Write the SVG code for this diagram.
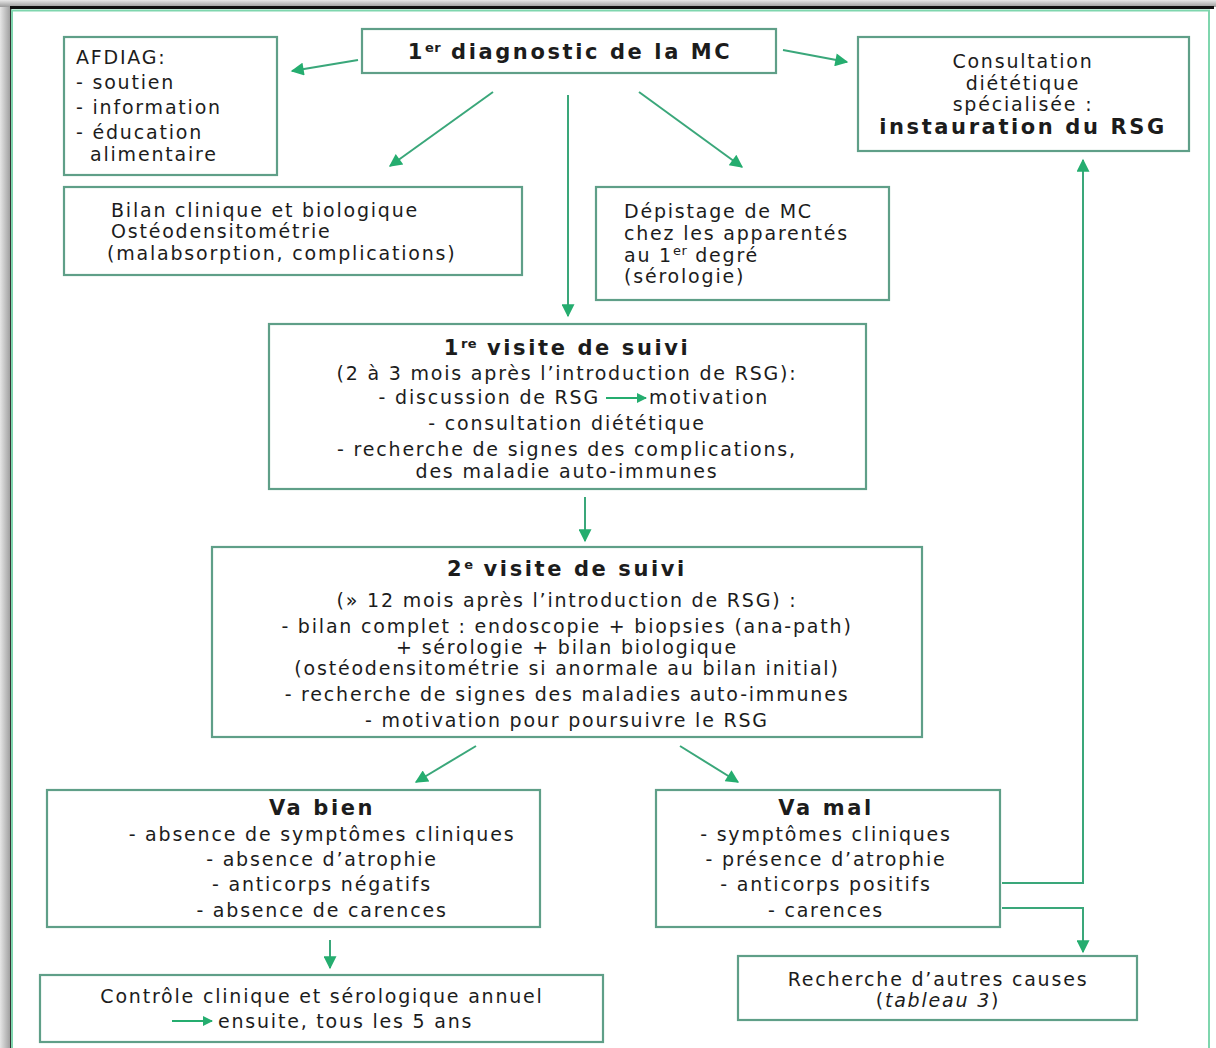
<svg xmlns="http://www.w3.org/2000/svg" width="1216" height="1048" viewBox="0 0 1216 1048">
<defs>
<linearGradient id="gl" x1="0" y1="0" x2="1" y2="0"><stop offset="0" stop-color="#e6e6e6"/><stop offset="1" stop-color="#9a9a9a"/></linearGradient>
<linearGradient id="gt" x1="0" y1="0" x2="0" y2="1"><stop offset="0" stop-color="#e8e8e8"/><stop offset="1" stop-color="#9a9a9a"/></linearGradient>
<marker id="ah" viewBox="0 0 10 10" refX="9" refY="5" markerWidth="15" markerHeight="13" markerUnits="userSpaceOnUse" orient="auto"><path d="M0,0 L10,5 L0,10 z" fill="#25ad6f"/></marker>
<marker id="ahs" viewBox="0 0 10 10" refX="9" refY="5" markerWidth="12" markerHeight="10" markerUnits="userSpaceOnUse" orient="auto"><path d="M0,0 L10,5 L0,10 z" fill="#25ad6f"/></marker>
</defs>
<style>
.box{fill:#ffffff;stroke:#5f9f88;stroke-width:2.2}
.t{font-family:"DejaVu Sans","Liberation Sans",sans-serif;font-size:19px;letter-spacing:1.8px;fill:#1c1c1c}
.c{text-anchor:middle}
.b{font-weight:bold;font-size:21px;letter-spacing:2.6px}
.sup{font-size:13px;letter-spacing:0.5px}
.con{fill:none;stroke:#3aa77a;stroke-width:2;marker-end:url(#ah)}
.inl{fill:none;stroke:#25ad6f;stroke-width:2;marker-end:url(#ahs)}
</style>
<rect x="0" y="0" width="1216" height="1048" fill="#ffffff"/>
<rect x="0" y="0" width="11" height="1048" fill="url(#gl)"/>
<rect x="0" y="0" width="1216" height="7" fill="url(#gt)"/>
<rect x="10" y="6" width="1204" height="3" fill="#111111"/>
<rect x="10" y="9" width="1.5" height="1039" fill="#333333"/>
<rect x="12" y="10.5" width="1197" height="1045" fill="none" stroke="#7fd6ae" stroke-width="2"/>

<g id="connectors">
<path class="con" d="M358,60 L292,71"/>
<path class="con" d="M783,50 L847,62"/>
<path class="con" d="M493,92 L390,166"/>
<path class="con" d="M639,92 L742,167"/>
<path class="con" d="M568,95 L568,316"/>
<path class="con" d="M585,497 L585,541"/>
<path class="con" d="M476,746 L416,782"/>
<path class="con" d="M680,746 L738,782"/>
<path class="con" d="M330,940 L330,968"/>
<path class="con" d="M1002,883 H1083 V160"/>
<path class="con" d="M1002,908 H1083 V952"/>
</g>

<g id="afdiag">
<rect class="box" x="64" y="37" width="213" height="138"/>
<text class="t" x="76" y="64">AFDIAG:</text>
<text class="t" x="76" y="89">- soutien</text>
<text class="t" x="76" y="114">- information</text>
<text class="t" x="76" y="139">- éducation</text>
<text class="t" x="90" y="161">alimentaire</text>
</g>

<g id="diagnostic">
<rect class="box" x="362" y="29" width="414" height="44"/>
<text class="t c b" x="570" y="59">1<tspan class="sup" dy="-7">er</tspan><tspan dy="7"> diagnostic de la MC</tspan></text>
</g>

<g id="consultation">
<rect class="box" x="858" y="37" width="331" height="114"/>
<text class="t c" x="1023" y="68">Consultation</text>
<text class="t c" x="1023" y="90">diététique</text>
<text class="t c" x="1023" y="111">spécialisée :</text>
<text class="t c b" x="1023" y="134">instauration du RSG</text>
</g>

<g id="bilan">
<rect class="box" x="64" y="187" width="458" height="88"/>
<text class="t" x="111" y="217">Bilan clinique et biologique</text>
<text class="t" x="111" y="238">Ostéodensitométrie</text>
<text class="t" x="107" y="260">(malabsorption, complications)</text>
</g>

<g id="depistage">
<rect class="box" x="596" y="187" width="293" height="113"/>
<text class="t" x="624" y="218">Dépistage de MC</text>
<text class="t" x="624" y="240">chez les apparentés</text>
<text class="t" x="624" y="262">au 1<tspan class="sup" dy="-7">er</tspan><tspan dy="7"> degré</tspan></text>
<text class="t" x="624" y="283">(sérologie)</text>
</g>

<g id="visite1">
<rect class="box" x="269" y="324" width="597" height="165"/>
<text class="t c b" x="567" y="355">1<tspan class="sup" dy="-7">re</tspan><tspan dy="7"> visite de  suivi</tspan></text>
<text class="t c" x="567" y="380">(2 à 3 mois après l’introduction de RSG):</text>
<text class="t" x="600" y="404" text-anchor="end">- discussion de RSG</text>
<path class="inl" d="M606,398 L646,398"/>
<text class="t" x="649" y="404">motivation</text>
<text class="t c" x="567" y="430">- consultation diététique</text>
<text class="t c" x="567" y="456">- recherche de signes des complications,</text>
<text class="t c" x="567" y="478">des maladie auto-immunes</text>
</g>

<g id="visite2">
<rect class="box" x="212" y="547" width="710" height="190"/>
<text class="t c b" x="567" y="576">2<tspan class="sup" dy="-7">e</tspan><tspan dy="7"> visite de suivi</tspan></text>
<text class="t c" x="567" y="607">(» 12 mois après l’introduction de RSG) :</text>
<text class="t c" x="567" y="633">- bilan complet : endoscopie + biopsies (ana-path)</text>
<text class="t c" x="567" y="654">+ sérologie + bilan biologique</text>
<text class="t c" x="567" y="675">(ostéodensitométrie si anormale au bilan initial)</text>
<text class="t c" x="567" y="701">- recherche de signes des maladies auto-immunes</text>
<text class="t c" x="567" y="727">- motivation pour poursuivre le RSG</text>
</g>

<g id="vabien">
<rect class="box" x="47" y="790" width="493" height="137"/>
<text class="t c b" x="322" y="815">Va bien</text>
<text class="t c" x="322" y="841">- absence de symptômes cliniques</text>
<text class="t c" x="322" y="866">- absence d’atrophie</text>
<text class="t c" x="322" y="891">- anticorps négatifs</text>
<text class="t c" x="322" y="917">- absence de carences</text>
</g>

<g id="vamal">
<rect class="box" x="656" y="790" width="344" height="137"/>
<text class="t c b" x="826" y="815">Va mal</text>
<text class="t c" x="826" y="841">- symptômes cliniques</text>
<text class="t c" x="826" y="866">- présence d’atrophie</text>
<text class="t c" x="826" y="891">- anticorps positifs</text>
<text class="t c" x="826" y="917">- carences</text>
</g>

<g id="controle">
<rect class="box" x="40" y="975" width="563" height="67"/>
<text class="t c" x="322" y="1003">Contrôle clinique et sérologique annuel</text>
<path class="inl" d="M172,1021 L212,1021"/>
<text class="t" x="218" y="1028">ensuite, tous les 5 ans</text>
</g>

<g id="recherche">
<rect class="box" x="738" y="956" width="399" height="64"/>
<text class="t c" x="938" y="986">Recherche d’autres causes</text>
<text class="t c" x="938" y="1007">(<tspan font-style="italic">tableau 3</tspan>)</text>
</g>
</svg>
